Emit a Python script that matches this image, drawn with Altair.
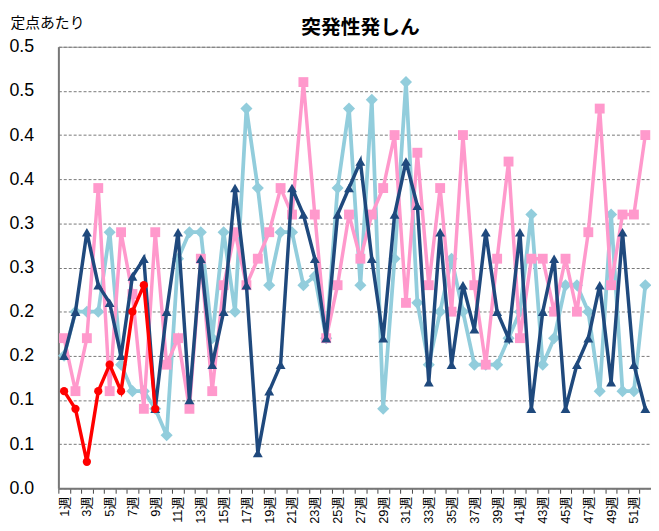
import json
import altair as alt
import pandas as pd

weeks = list(range(1, 53))

series_names = ["2年前", "前年", "前々年", "今年"]

light_blue = [0.15, 0.20, 0.20, 0.20, 0.29, 0.14, 0.11, 0.11, 0.09, 0.06,
              0.26, 0.29, 0.29, 0.17, 0.29, 0.20, 0.43, 0.34, 0.23, 0.29,
              0.29, 0.23, 0.24, 0.17, 0.34, 0.43, 0.23, 0.44, 0.09, 0.26,
              0.46, 0.21, 0.14, 0.20, 0.26, 0.20, 0.14, 0.14, 0.14, 0.17,
              0.20, 0.31, 0.14, 0.17, 0.23, 0.23, 0.20, 0.11, 0.31, 0.11,
              0.11, 0.23]

pink = [0.17, 0.11, 0.17, 0.34, 0.11, 0.29, 0.22, 0.09, 0.29, 0.14,
        0.17, 0.09, 0.26, 0.11, 0.23, 0.29, 0.23, 0.26, 0.29, 0.34,
        0.31, 0.46, 0.31, 0.17, 0.23, 0.31, 0.26, 0.31, 0.34, 0.40,
        0.21, 0.38, 0.23, 0.34, 0.20, 0.40, 0.23, 0.14, 0.26, 0.37,
        0.17, 0.26, 0.26, 0.20, 0.26, 0.20, 0.29, 0.43, 0.23, 0.31,
        0.31, 0.40]

dark_blue = [0.15, 0.20, 0.29, 0.23, 0.21, 0.15, 0.24, 0.26, 0.09, 0.20,
             0.29, 0.10, 0.26, 0.14, 0.20, 0.34, 0.23, 0.04, 0.11, 0.14,
             0.34, 0.31, 0.26, 0.17, 0.31, 0.34, 0.37, 0.26, 0.17, 0.31,
             0.37, 0.32, 0.12, 0.29, 0.14, 0.23, 0.18, 0.29, 0.20, 0.17,
             0.29, 0.09, 0.20, 0.26, 0.09, 0.14, 0.17, 0.23, 0.12, 0.29,
             0.14, 0.09]

red = [0.11, 0.09, 0.03, 0.11, 0.14, 0.11, 0.20, 0.23, 0.09]

y_ticks = [0.0, 0.05, 0.1, 0.15, 0.2, 0.25, 0.3, 0.35, 0.4, 0.45, 0.5]
y_tick_labels = ["0.0", "0.1", "0.1", "0.2", "0.2", "0.3", "0.3", "0.4", "0.4", "0.5", "0.5"]

FONT = "Liberation Sans, Arial, Noto Sans CJK JP"

x_enc = alt.X(
    "week:O",
    bandPosition=0.5,
    scale=alt.Scale(type="band", paddingInner=0, paddingOuter=0, domain=weeks),
    axis=alt.Axis(
        title=None,
        labelAngle=270,
        labelAlign="right",
        labelBaseline="middle",
        labelFontSize=13,
        labelFont=FONT,
        labelColor="black",
        labelPadding=3,
        labelOverlap=False,
        labelExpr="datum.value % 2 == 1 ? datum.value + '週' : ''",
        tickBand="extent",
        ticks=True,
        tickSize=5,
        tickColor="#444",
        domainColor="#777",
        domainWidth=2,
        grid=False,
    ),
)

y_enc = alt.Y(
    "value:Q",
    scale=alt.Scale(domain=[0, 0.5], nice=False, zero=True),
    axis=alt.Axis(
        title="定点あたり",
        titleAngle=0,
        titleAlign="left",
        titleBaseline="middle",
        titleX=-49,
        titleY=-25,
        titleFontSize=15,
        titleFontWeight="normal",
        titleFont="Noto Sans CJK JP",
        titleColor="black",
        values=y_ticks,
        labelExpr=json.dumps(y_tick_labels) + "[round(datum.value*20)]",
        labelFontSize=18,
        labelFont=FONT,
        labelColor="black",
        labelPadding=25,
        ticks=False,
        tickSize=0,
        domainColor="#777",
        domainWidth=2,
        grid=True,
        gridDash=[3, 2],
        gridColor="#777",
        gridWidth=1,
    ),
)

specs = [
    (light_blue, "#92CDDC", "diamond", 150, 3.8),
    (pink, "#FF99CC", "square", 100, 3.5),
    (dark_blue, "#1F497D", "triangle-up", 100, 3.5),
    (red, "#FF0000", "circle", 70, 3.5),
]

layers = []
for (vals, color, shape, size, sw), name in zip(specs, series_names):
    df = pd.DataFrame({"week": weeks[:len(vals)], "value": vals, "series": name})
    base = alt.Chart(df).encode(x=x_enc, y=y_enc)
    layers.append(base.mark_line(color=color, strokeWidth=sw))
    layers.append(base.mark_point(shape=shape, filled=True, size=size, color=color, opacity=1))

chart = alt.layer(*layers).properties(
    width=600,
    height=447,
    autosize=alt.AutoSizeParams(type="none"),
    padding={"left": 51, "top": 36, "right": 0, "bottom": 40},
    title=alt.TitleParams(
        "突発性発しん",
        fontSize=20,
        fontWeight="bold",
        font="Noto Sans CJK JP",
        anchor="middle",
        dx=6,
        dy=49,
        offset=10,
        baseline="alphabetic",
        color="black",
    ),
).configure_view(stroke="#999", strokeWidth=1)

chart.save("out.html", embed_options={"renderer": "svg", "actions": False})
